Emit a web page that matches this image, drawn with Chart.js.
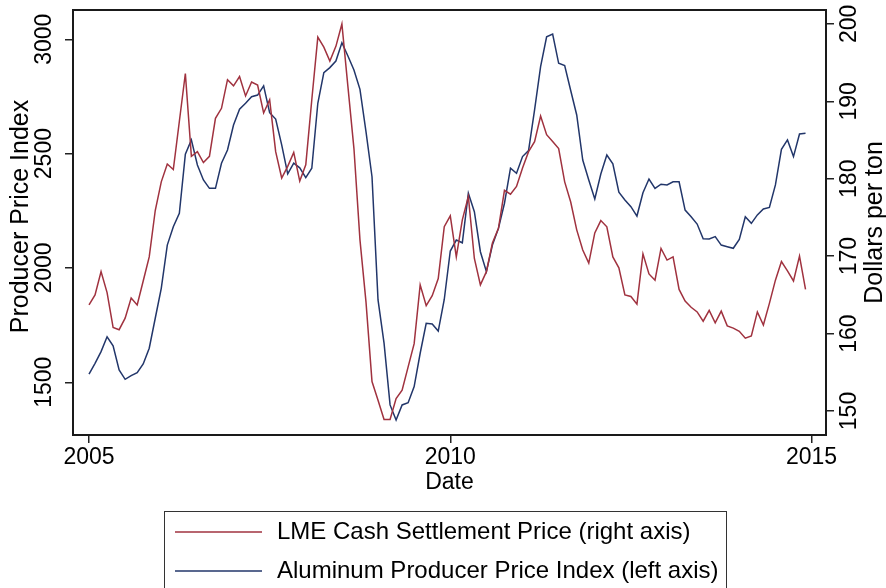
<!DOCTYPE html>
<html lang="en">
<head>
<meta charset="utf-8">
<title>LME price and aluminum PPI</title>
<script src="https://cdn.jsdelivr.net/npm/chart.js@4/dist/chart.umd.min.js"></script>
<style>
  html, body { margin: 0; padding: 0; background: #fff; }
  #wrap { width: 886px; height: 588px; }
</style>
</head>
<body>
<div id="wrap"><canvas id="c" width="886" height="588"></canvas></div>
<script>
// monthly observations, Jan 2005 .. Dec 2014 (index 0 = 2005m1)
var startYear = 2005;

// LME Cash Settlement Price (right axis)
var lme = [
  163.7, 165.0, 168.0, 165.3, 160.8, 160.5, 162.0, 164.6, 163.7, 166.8, 169.9, 175.9,
  179.6, 181.9, 181.2, 187.4, 193.6, 182.9, 183.5, 182.1, 182.9, 187.8, 189.1, 192.8,
  192.0, 193.2, 190.7, 192.5, 192.1, 188.5, 190.2, 183.5, 180.1, 181.6, 183.4, 179.7,
  181.8, 190.2, 198.3, 197.0, 195.2, 197.1, 200.0, 191.9, 183.9, 172.1, 164.1, 153.8,
  151.4, 148.9, 148.9, 151.6, 152.7, 155.7, 158.7, 166.3, 163.6, 164.9, 167.1, 173.8,
  175.2, 169.9, 174.7, 177.7, 169.7, 166.3, 168.0, 171.7, 173.6, 178.5, 178.0, 179.0,
  181.4, 183.5, 184.8, 188.1, 185.7, 184.8, 183.9, 179.6, 177.0, 173.4, 170.8, 169.1,
  173.0, 174.6, 173.8, 169.9, 168.5, 165.0, 164.8, 163.8, 170.3, 167.7, 166.9, 171.0,
  169.5, 169.9, 165.7, 164.2, 163.4, 162.8, 161.6, 163.0, 161.4, 162.9, 161.0, 160.7,
  160.3, 159.4, 159.7, 162.8, 161.1, 163.9, 166.9, 169.3, 168.1, 166.8, 170.0, 165.7
];

// Aluminum Producer Price Index (left axis)
var ppi = [
  1536, 1583, 1634, 1699, 1659, 1554, 1513, 1529, 1542, 1580, 1649, 1780,
  1911, 2100, 2180, 2239, 2497, 2560, 2450, 2385, 2348, 2348, 2458, 2516,
  2625, 2694, 2720, 2749, 2756, 2796, 2679, 2651, 2538, 2411, 2458, 2438,
  2395, 2436, 2720, 2854, 2876, 2905, 2985, 2927, 2866, 2781, 2596, 2399,
  1860, 1671, 1401, 1335, 1401, 1411, 1481, 1627, 1758, 1755, 1724, 1862,
  2074, 2122, 2110, 2327, 2246, 2071, 1984, 2100, 2173, 2283, 2436, 2414,
  2487, 2513, 2691, 2880, 3011, 3023, 2895, 2885, 2776, 2669, 2472, 2385,
  2302, 2411, 2494, 2455, 2331, 2297, 2268, 2227, 2329, 2389, 2348, 2366,
  2363, 2377, 2377, 2253, 2224, 2192, 2128, 2127, 2137, 2100, 2093, 2086,
  2125, 2224, 2195, 2232, 2258, 2265, 2363, 2519, 2560, 2487, 2586, 2589
];

var xTickYears = [2005, 2010, 2015];
var leftTicks = [1500, 2000, 2500, 3000];
var rightTicks = [150, 160, 170, 180, 190, 200];

var seriesNames = ['LME Cash Settlement Price (right axis)', 'Aluminum Producer Price Index (left axis)'];
var redColor = '#a0323f';
var navyColor = '#22366a';
var FONT = '"Liberation Sans", Arial, Helvetica, sans-serif';

function toPoints(arr){
  var out = [];
  for (var i = 0; i < arr.length; i++) out.push({x: i, y: arr[i]});
  return out;
}

var textPlugin = {
  id: 'stataText',
  afterDraw: function(chart){
    var ctx = chart.ctx, a = chart.chartArea, s = chart.scales;
    ctx.save();
    // plot region frame
    ctx.strokeStyle = '#1a1a1a';
    ctx.lineWidth = 2;
    ctx.strokeRect(a.left, a.top, a.right - a.left, a.bottom - a.top);

    ctx.fillStyle = '#000';
    ctx.textAlign = 'center';
    ctx.textBaseline = 'middle';
    ctx.font = '23px ' + FONT;

    function vtext(str, x, y){
      ctx.save();
      ctx.translate(x, y);
      ctx.rotate(-Math.PI / 2);
      ctx.fillText(str, 0, 0);
      ctx.restore();
    }
    leftTicks.forEach(function(v){ vtext(String(v), 45, s.y.getPixelForValue(v)); });
    rightTicks.forEach(function(v){ vtext(String(v), 850, s.y1.getPixelForValue(v)); });
    xTickYears.forEach(function(yr){
      ctx.fillText(String(yr), s.x.getPixelForValue((yr - startYear) * 12), 458);
    });

    var midY = (a.top + a.bottom) / 2, midX = (a.left + a.right) / 2;
    ctx.fillText('Date', midX, 483);
    ctx.font = '25px ' + FONT;
    vtext('Producer Price Index', 21, midY - 6);
    vtext('Dollars per ton', 875, midY);

    // legend
    ctx.strokeStyle = '#333';
    ctx.lineWidth = 1;
    ctx.strokeRect(164.5, 511.5, 562, 90);
    var rows = [[redColor, 532], [navyColor, 571]];
    ctx.textAlign = 'left';
    ctx.font = '24px ' + FONT;
    rows.forEach(function(r, i){
      ctx.strokeStyle = r[0];
      ctx.lineWidth = 1.5;
      ctx.beginPath();
      ctx.moveTo(175, r[1]);
      ctx.lineTo(262, r[1]);
      ctx.stroke();
      ctx.fillStyle = '#000';
      ctx.fillText(seriesNames[i], 277, r[1]);
    });
    ctx.restore();
  }
};

var tickGrid = { display: true, drawOnChartArea: false, drawTicks: true, tickLength: 8, color: '#222', lineWidth: 1.5 };

new Chart(document.getElementById('c'), {
  type: 'line',
  data: {
    datasets: [
      { label: seriesNames[0], data: toPoints(lme), yAxisID: 'y1', borderColor: redColor, borderWidth: 1.5, pointRadius: 0, tension: 0, fill: false },
      { label: seriesNames[1], data: toPoints(ppi), yAxisID: 'y', borderColor: navyColor, borderWidth: 1.5, pointRadius: 0, tension: 0, fill: false }
    ]
  },
  options: {
    responsive: false,
    animation: false,
    layout: { padding: { top: 10, left: 0, right: 0, bottom: 0 } },
    plugins: { legend: { display: false }, tooltip: { enabled: false } },
    scales: {
      x: {
        type: 'linear', position: 'bottom', min: -2.66, max: 122.4,
        grid: tickGrid, border: { display: false },
        ticks: { display: false },
        afterBuildTicks: function(sc){ sc.ticks = xTickYears.map(function(yr){ return {value: (yr - startYear) * 12}; }); },
        afterFit: function(sc){ sc.height = 153; }
      },
      y: {
        type: 'linear', position: 'left', min: 1269.5, max: 3128,
        grid: tickGrid, border: { display: false },
        ticks: { display: false },
        afterBuildTicks: function(sc){ sc.ticks = leftTicks.map(function(v){ return {value: v}; }); },
        afterFit: function(sc){ sc.width = 73; }
      },
      y1: {
        type: 'linear', position: 'right', min: 146.9, max: 201.8,
        grid: tickGrid, border: { display: false },
        ticks: { display: false },
        afterBuildTicks: function(sc){ sc.ticks = rightTicks.map(function(v){ return {value: v}; }); },
        afterFit: function(sc){ sc.width = 60; }
      }
    }
  },
  plugins: [textPlugin]
});
</script>
</body>
</html>
